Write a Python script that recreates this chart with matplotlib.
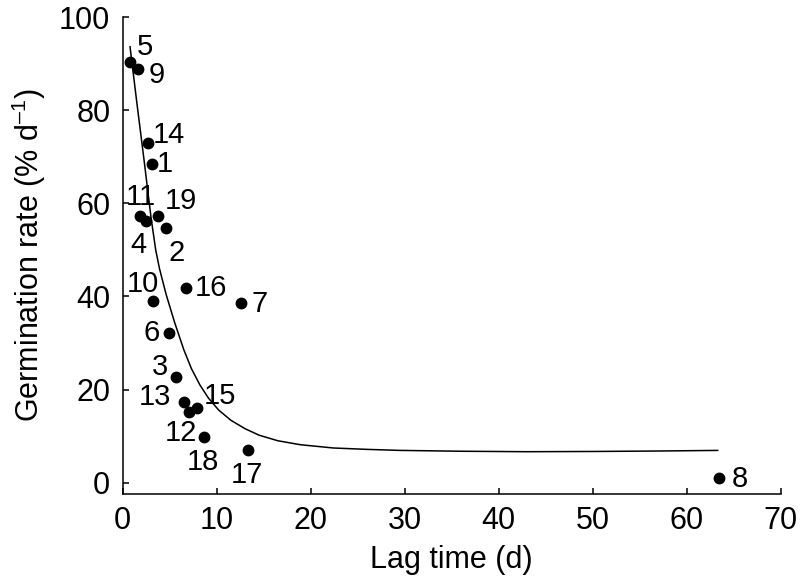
import numpy as np
import matplotlib
matplotlib.use('Agg')
import matplotlib.pyplot as plt

plt.rcParams['font.family'] = ['Liberation Sans', 'DejaVu Sans']
plt.rcParams['mathtext.fontset'] = 'custom'
plt.rcParams['mathtext.rm'] = 'Liberation Sans'
plt.rcParams['mathtext.default'] = 'regular'

# seed lots: lag time (d) and germination rate (% per day)
lot_ids = ['5', '9', '14', '1', '11', '4', '19', '2', '10', '16',
           '7', '6', '3', '13', '12', '15', '18', '17', '8']
lag_time = [0.8, 1.6, 2.7, 3.1, 1.8, 2.5, 3.7, 4.6, 3.2, 6.7,
            12.6, 4.9, 5.7, 6.5, 7.0, 7.9, 8.6, 13.3, 63.4]
germ_rate = [90.4, 88.9, 73.0, 68.5, 57.2, 56.1, 57.2, 54.6, 39.0, 41.8,
             38.5, 32.1, 22.7, 17.3, 15.2, 16.0, 9.8, 7.0, 0.9]

# fitted curve
curve_x = [0.77, 1.5, 2.26, 3.0, 3.5, 3.9, 4.6, 5.5, 6.5, 7.3, 8.2, 9.1, 10.2,
           11.5, 13.0, 14.5, 16.5, 18.9, 22.4, 26.0, 29.5, 36.0, 43.0, 50.0,
           57.0, 63.3]
curve_y = [93.6, 81.5, 69.3, 57.0, 50.0, 46.0, 40.5, 34.5, 28.5, 24.5, 21.0,
           18.2, 15.6, 13.4, 11.6, 10.2, 9.0, 8.15, 7.45, 7.15, 6.93, 6.75,
           6.65, 6.7, 6.8, 6.93]

# label offsets from each dot, in pixels
label_off = [(15, 15), (19, -6), (21, 8), (13, 0), (1, 19), (-8, -24),
             (23, 15), (11, -25), (-10, 17), (25, 0), (18, -1), (-17, 0),
             (-16, 10), (-29, 5), (-8, -21), (23, 12), (-1, -25), (-1, -25),
             (21, -1)]

fig = plt.figure(figsize=(8, 5.81), dpi=100)
ax = fig.add_axes([0.1535, 0.150, 0.8223, 0.8207])

ax.plot(curve_x, curve_y, color='black', lw=1.1, zorder=2)
ax.plot(lag_time, germ_rate, 'o', color='black', ms=7.5, zorder=3)

for lab, x, y, off in zip(lot_ids, lag_time, germ_rate, label_off):
    ax.annotate(lab, (x, y), xytext=off, textcoords='offset pixels',
                ha='center', va='center', fontsize=21)

ax.set_xlim(0, 70)
ax.set_ylim(-2.4, 100)
ax.set_xticks(np.arange(0, 71, 10))
ax.set_yticks(np.arange(0, 101, 20))
for s in ['top', 'right']:
    ax.spines[s].set_visible(False)
for s in ['left', 'bottom']:
    ax.spines[s].set_linewidth(1.1)
ax.tick_params(direction='in', length=4, width=1.1, labelsize=22, pad=9)

ax.set_xlabel('Lag time (d)', fontsize=22, labelpad=6)
ax.set_ylabel('Germination rate (% d$^{\u2013 1}$)', fontsize=22, labelpad=8)

fig.savefig('out.png', dpi=100)
